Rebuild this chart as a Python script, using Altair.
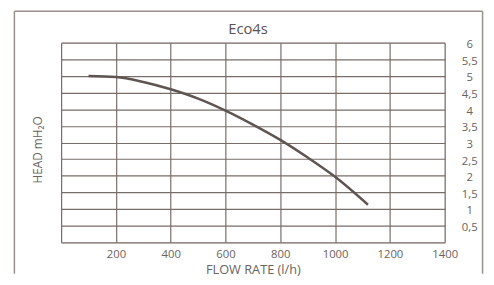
import altair as alt
import pandas as pd

flow = [100, 200, 300, 400, 500, 600, 700, 800, 900, 1000, 1120]
head = [5.0, 4.97, 4.82, 4.6, 4.32, 3.96, 3.54, 3.08, 2.55, 1.97, 1.13]
x_ticks = [200, 400, 600, 800, 1000, 1200, 1400]
y_ticks = [0.5, 1, 1.5, 2, 2.5, 3, 3.5, 4, 4.5, 5, 5.5, 6]
x_grid = [0, 200, 400, 600, 800, 1000, 1200, 1400]

df = pd.DataFrame({"flow": flow, "head": head})

FONT = "Open Sans"
GRID = "#776d69"
TEXT = "#6b6360"
FRAME = "#978f8c"

x_enc = alt.X(
    "flow:Q",
    scale=alt.Scale(domain=[0, 1400], nice=False, zero=True),
    axis=alt.Axis(
        values=x_grid,
        labelExpr="datum.value == 0 ? '' : toString(datum.value)",
        ticks=False,
        domain=False,
        grid=True,
        gridColor=GRID,
        gridOpacity=1,
        gridWidth=1.2,
        labelFlush=False,
        labelPadding=6,
        labelFontSize=11.5,
        labelColor=TEXT,
        labelFont=FONT,
        title="FLOW RATE (l/h)",
        titleFont=FONT,
        titleFontSize=13,
        titleFontWeight="normal",
        titleColor=TEXT,
        titlePadding=4,
    ),
)
y_enc = alt.Y(
    "head:Q",
    scale=alt.Scale(domain=[0, 6], nice=False),
    axis=alt.Axis(
        orient="right",
        values=[0] + y_ticks,
        labelExpr="datum.value == 0 ? '' : replace(toString(datum.value), '.', ',')",
        ticks=False,
        domain=False,
        grid=True,
        gridColor=GRID,
        gridOpacity=1,
        gridWidth=1.2,
        labelAlign="center",
        labelBaseline="middle",
        labelOffset=2,
        labelPadding=25,
        labelFontSize=11.5,
        labelColor=TEXT,
        labelFont=FONT,
        title=None,
    ),
)

curve = alt.Chart(df).mark_line(
    interpolate="monotone", color="#5e5451", strokeWidth=2.5
).encode(x=x_enc, y=y_enc)

one = alt.Data(values=[{"k": 1}])
frame_left = alt.Chart(one).mark_rule(color=FRAME, strokeWidth=1.5).encode(
    x=alt.value(-47.5), y=alt.value(-32), y2=alt.value(235)
)
frame_right = alt.Chart(one).mark_rule(color=FRAME, strokeWidth=1.5).encode(
    x=alt.value(428.5), y=alt.value(-32), y2=alt.value(235)
)
frame_top = alt.Chart(one).mark_rule(color=FRAME, strokeWidth=1.5).encode(
    x=alt.value(-47.5), x2=alt.value(428.5), y=alt.value(-32)
)

title = alt.Chart(one).mark_text(
    text="Eco4s", font=FONT, fontSize=15, color="#5a5250",
    align="center", baseline="alphabetic"
).encode(x=alt.value(190), y=alt.value(-9))

ytitle = alt.Chart(one).mark_text(
    text="HEAD mH\u2082O", angle=270, font=FONT, fontSize=12, color=TEXT,
    align="center", baseline="middle"
).encode(x=alt.value(-23.5), y=alt.value(109))

chart = alt.layer(frame_left, frame_right, frame_top, title, curve, ytitle).properties(
    width=390,
    height=203,
    padding={"left": 5, "top": 0, "right": 2, "bottom": 0},
).configure_view(stroke=GRID, strokeWidth=1.5).configure(background="white")

chart.save("out.html", embed_options={"renderer": "svg", "actions": False})
